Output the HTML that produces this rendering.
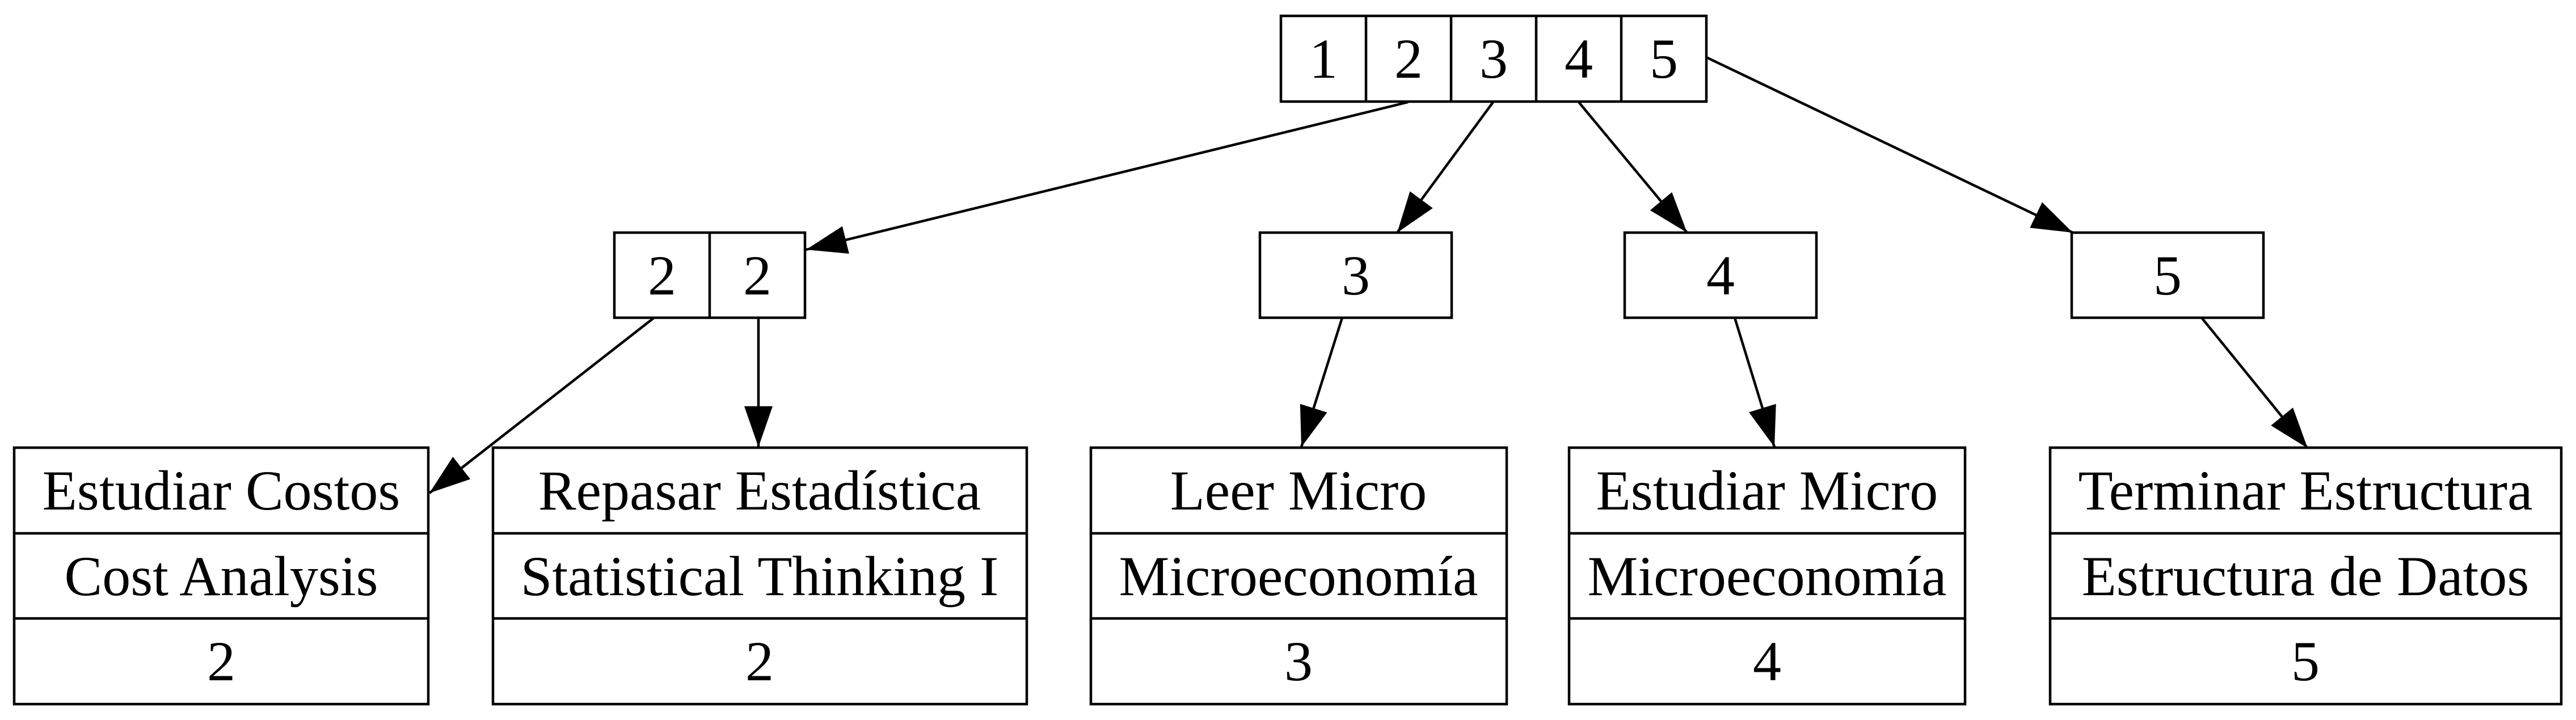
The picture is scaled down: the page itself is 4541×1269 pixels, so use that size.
<!DOCTYPE html>
<html><head><meta charset="utf-8"><style>
html,body{margin:0;padding:0;background:#fff;}
svg{display:block;}
text{font-family:"Liberation Serif",serif;font-size:100px;text-anchor:middle;fill:#000;}
</style></head><body>
<svg width="4541" height="1269" viewBox="0 0 4541 1269" xmlns="http://www.w3.org/2000/svg">
<defs>
<marker id="a" markerUnits="userSpaceOnUse" markerWidth="80" markerHeight="60" refX="72" refY="25" orient="auto">
<path d="M0,0 L72,25 L0,50 z" fill="#000"/>
</marker>
</defs>
<g fill="none" stroke="#000" stroke-width="4.5">
<!-- top node -->
<rect x="2258" y="28" width="750" height="151"/>
<line x1="2408" y1="28" x2="2408" y2="179"/>
<line x1="2558" y1="28" x2="2558" y2="179"/>
<line x1="2708" y1="28" x2="2708" y2="179"/>
<line x1="2858" y1="28" x2="2858" y2="179"/>
<!-- mid nodes -->
<rect x="1083" y="410" width="336" height="150"/>
<line x1="1251" y1="410" x2="1251" y2="560"/>
<rect x="2221" y="410" width="338" height="150"/>
<rect x="2864" y="410" width="338" height="150"/>
<rect x="3652" y="410" width="338" height="150"/>
<!-- bottom nodes -->
<rect x="25" y="789" width="730" height="452"/>
<line x1="25" y1="940" x2="755" y2="940"/><line x1="25" y1="1090" x2="755" y2="1090"/>
<rect x="869" y="789" width="941" height="452"/>
<line x1="869" y1="940" x2="1810" y2="940"/><line x1="869" y1="1090" x2="1810" y2="1090"/>
<rect x="1923" y="789" width="733" height="452"/>
<line x1="1923" y1="940" x2="2656" y2="940"/><line x1="1923" y1="1090" x2="2656" y2="1090"/>
<rect x="2766" y="789" width="698" height="452"/>
<line x1="2766" y1="940" x2="3464" y2="940"/><line x1="2766" y1="1090" x2="3464" y2="1090"/>
<rect x="3614" y="789" width="901" height="452"/>
<line x1="3614" y1="940" x2="4515" y2="940"/><line x1="3614" y1="1090" x2="4515" y2="1090"/>
<!-- edges -->
<line x1="2482" y1="180" x2="1421" y2="440" marker-end="url(#a)"/>
<line x1="2632" y1="180" x2="2463" y2="410" marker-end="url(#a)"/>
<line x1="2783" y1="180" x2="2974" y2="410" marker-end="url(#a)"/>
<line x1="3008" y1="101" x2="3654" y2="410" marker-end="url(#a)"/>
<line x1="1153" y1="560" x2="757" y2="869" marker-end="url(#a)"/>
<line x1="1337" y1="560" x2="1337" y2="788" marker-end="url(#a)"/>
<line x1="2366" y1="560" x2="2294" y2="788" marker-end="url(#a)"/>
<line x1="3058" y1="560" x2="3128" y2="788" marker-end="url(#a)"/>
<line x1="3881" y1="560" x2="4068" y2="790" marker-end="url(#a)"/>
</g>
<g>
<text x="2333" y="137">1</text><text x="2483" y="137">2</text><text x="2633" y="137">3</text><text x="2783" y="137">4</text><text x="2933" y="137">5</text>
<text x="1167" y="519">2</text><text x="1335" y="519">2</text>
<text x="2390" y="519">3</text><text x="3033" y="519">4</text><text x="3821" y="519">5</text>

<text x="390" y="898">Estudiar Costos</text><text x="390" y="1049">Cost Analysis</text><text x="390" y="1199">2</text>
<text x="1339" y="898">Repasar Estadística</text><text x="1339" y="1049">Statistical Thinking I</text><text x="1339" y="1199">2</text>
<text x="2289" y="898">Leer Micro</text><text x="2289" y="1049">Microeconomía</text><text x="2289" y="1199">3</text>
<text x="3115" y="898">Estudiar Micro</text><text x="3115" y="1049">Microeconomía</text><text x="3115" y="1199">4</text>
<text x="4064" y="898">Terminar Estructura</text><text x="4064" y="1049">Estructura de Datos</text><text x="4064" y="1199">5</text>
</g>
</svg>
</body></html>
